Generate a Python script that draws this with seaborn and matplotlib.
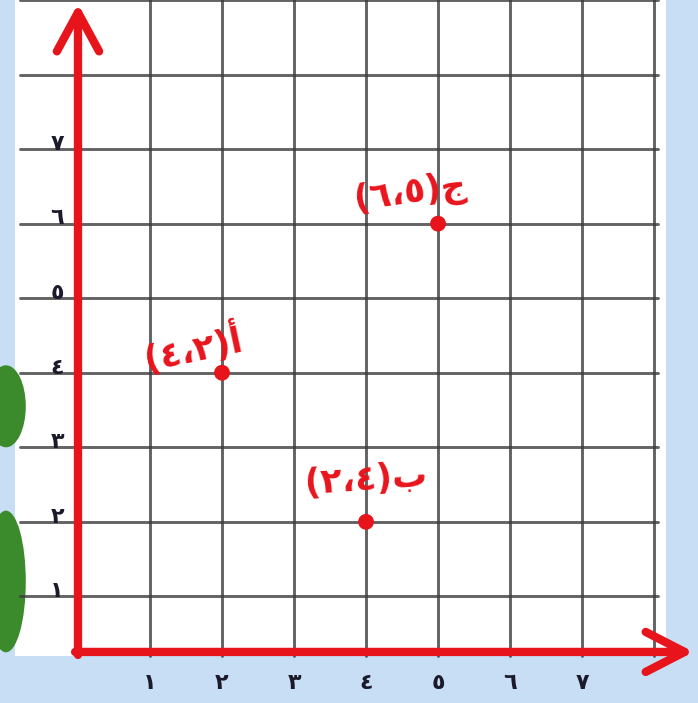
import matplotlib
matplotlib.use('Agg')
import matplotlib.pyplot as plt
import seaborn as sns
import pandas as pd
from matplotlib.patches import Rectangle, Ellipse

# pontos do plano
nomes = ['أ', 'ب', 'ج']
xs = [2, 4, 5]
ys = [4, 2, 6]
# rótulos escritos na ordem visual (esquerda -> direita)
rotulos = ['(٤،٢)أ', '(٢،٤)ب', '(٦،٥)ج']
rot_x = [1.6, 4.0, 4.62]
rot_y = [4.33, 2.57, 6.40]
rot_ang = [12, 4, 8]

ticks_x = [1, 2, 3, 4, 5, 6, 7]
ticks_y = [1, 2, 3, 4, 5, 6, 7]
labels_tick = ['١', '٢', '٣', '٤', '٥', '٦', '٧']

df = pd.DataFrame({'nome': nomes, 'x': xs, 'y': ys})

sns.set_style('white')
plt.rcParams['font.family'] = ['DejaVu Sans']

vermelho = '#e8141c'
fig = plt.figure(figsize=(6.98, 7.03), dpi=100)
fig.patch.set_facecolor('#c8def4')
ax = fig.add_axes([0, 0, 1, 1])
ax.set_xlim(-1.083, 8.61)
ax.set_ylim(-0.43, 9.0)
ax.axis('off')

# folha quadriculada
ax.add_patch(Rectangle((-0.87, 0.2), 9.04, 9.0, facecolor='white', edgecolor='none', zorder=0))
ax.add_patch(Ellipse((-1.0, 3.55), 0.55, 1.1, facecolor='#3b8a2c', edgecolor='none', zorder=0))
ax.add_patch(Ellipse((-1.0, 1.2), 0.55, 1.9, facecolor='#3b8a2c', edgecolor='none', zorder=0))

for gx in range(1, 9):
    ax.plot([gx, gx], [0.2, 9.1], color='#3c3c3c', lw=2.1, alpha=0.8, zorder=1)
for gy in range(1, 10):
    ax.plot([-0.8, 8.06], [gy, gy], color='#3c3c3c', lw=2.1, alpha=0.8, zorder=1)

# eixos vermelhos com setas
y0 = 0.255
ax.annotate('', xy=(0, 8.95), xytext=(0, y0 - 0.04),
            arrowprops=dict(arrowstyle='->,head_length=0.7,head_width=0.38', lw=6,
                            color=vermelho, mutation_scale=40, shrinkA=0, shrinkB=0), zorder=3)
ax.annotate('', xy=(8.55, y0), xytext=(-0.04, y0),
            arrowprops=dict(arrowstyle='->,head_length=0.7,head_width=0.36', lw=6,
                            color=vermelho, mutation_scale=40, shrinkA=0, shrinkB=0), zorder=3)

sns.scatterplot(data=df, x='x', y='y', color=vermelho, s=130, edgecolor='none', ax=ax, zorder=4)

for t, rx, ry, ang in zip(rotulos, rot_x, rot_y, rot_ang):
    ax.text(rx, ry, t, color=vermelho, fontsize=25, fontweight='bold', rotation=ang,
            ha='center', va='center', zorder=5)

for v, lab in zip(ticks_x, labels_tick):
    ax.text(v, -0.16, lab, color='#1a1a2a', fontsize=16, fontweight='bold', ha='center', va='center')
for v, lab in zip(ticks_y, labels_tick):
    ax.text(-0.29, v + 0.07, lab, color='#1a1a2a', fontsize=16, fontweight='bold', ha='center', va='center')

fig.savefig('out.png', dpi=100, facecolor=fig.get_facecolor())
